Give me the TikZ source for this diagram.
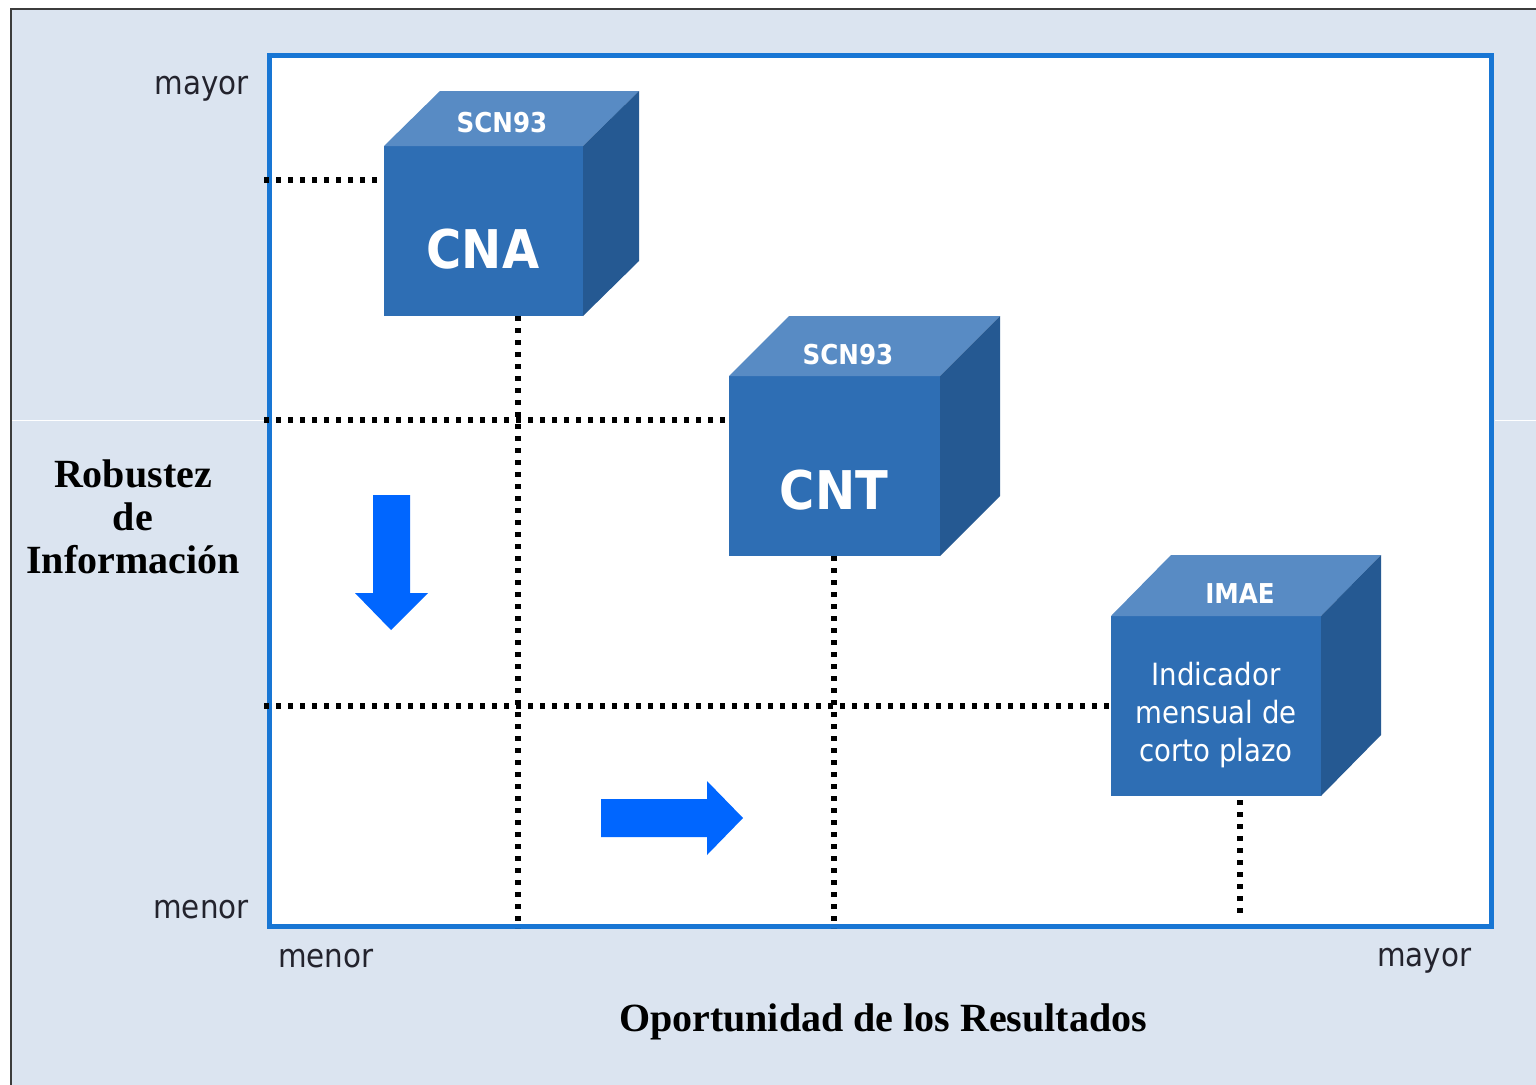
\documentclass[tikz,border=0pt]{standalone}
\usepackage{fontspec}
\newfontfamily\tah{DejaVu Sans}[FakeStretch=0.9]
\newfontfamily\ser{Liberation Serif}
\usetikzlibrary{calc}
\definecolor{bg}{RGB}{219,228,240}
\definecolor{framegray}{RGB}{60,60,60}
\definecolor{plotblue}{RGB}{24,118,212}
\definecolor{frontc}{RGB}{46,110,180}
\definecolor{topc}{RGB}{88,139,196}
\definecolor{sidec}{RGB}{37,89,146}
\definecolor{arrowblue}{RGB}{0,102,255}
\definecolor{txt}{RGB}{35,35,45}
\newcommand\mycube[7]{%
  \node[frontface, minimum width=#4*0.75pt, minimum height=#5*0.75pt, anchor=north west] (#1) at (#2,#3) {};
  \fill[topc] (#1.north west) -- ++(#6,-#7) -- ($(#1.north east)+(#6,-#7)$) -- (#1.north east) -- cycle;
  \fill[sidec] (#1.north east) -- ++(#6,-#7) -- ($(#1.south east)+(#6,-#7)$) -- (#1.south east) -- cycle;
}
\begin{document}
\begin{tikzpicture}[x=0.75pt,y=-0.75pt,
  frontface/.style={draw=none,fill=frontc,rectangle,inner sep=0pt,outer sep=0pt},
  dots/.style={line width=3.9pt,dash pattern=on 3.9pt off 5.1pt,line cap=butt,black},
  cubetitle/.style={inner sep=0pt,text=white,font=\tah\bfseries\fontsize{20.5}{24}\selectfont},
  cubebig/.style={inner sep=0pt,text=white,font=\tah\bfseries\fontsize{40}{48}\selectfont},
  cubebody/.style={inner sep=0pt,text=white,align=center,font=\tah\fontsize{23}{28.5}\selectfont},
  axislbl/.style={inner sep=0pt,text=txt,font=\tah\fontsize{24.5}{29}\selectfont},
  axistitle/.style={inner sep=0pt,text=black,align=center,font=\ser\bfseries\fontsize{30}{32.25}\selectfont},
  bigarrow/.style={fill=arrowblue,draw=none}]
\useasboundingbox (0,0) rectangle (1536,1085);
\fill[white] (0,0) rectangle (1536,1085);
\fill[bg] (11,9) rectangle (1536,1085);
\draw[framegray,line width=1.9pt] (11,1085) -- (11,9) -- (1536,9);
\draw[white,line width=0.75pt] (12,420) -- (266,420);
\draw[white,line width=0.75pt] (1495,420) -- (1536,420);
% plot area
\node[draw=plotblue,line width=3.75pt,fill=white,inner sep=0pt,outer sep=0pt,
  minimum width=1222*0.75pt,minimum height=871*0.75pt,anchor=north west] (plot) at (269,55) {};
% cubes
\mycube{cna}{384}{146}{199}{170}{56}{55}
\mycube{cnt}{729}{376}{211}{180}{60}{60}
\mycube{imae}{1111}{616}{210}{180}{60}{61}
\node[cubetitle] (cnaT) at (502,123) {SCN93};
\node[cubebig] (cnaL) at (483,249) {CNA};
\node[cubetitle] (cntT) at (848,355) {SCN93};
\node[cubebig] (cntL) at (834,490) {CNT};
\node[cubetitle] (imaeT) at (1240,594) {IMAE};
\node[cubebody] (imaeL) at (1216,715) {Indicador\\mensual de\\corto plazo};
% dotted guide lines
\coordinate (h1) at (264,180);
\coordinate (h2) at (264,420);
\coordinate (h3) at (264,706);
\coordinate (v1) at (518,928);
\coordinate (v2) at (834,928);
\coordinate (v3) at (1240,915);
\draw[dots] (h1) -- ($(cna.west |- h1)+(-6,0)$);
\draw[dots] (h2) -- ($(cnt.west |- h2)+(-2,0)$);
\draw[dots] (h3) -- ($(imae.west |- h3)+(-1,0)$);
\draw[dots] (cna.south -| v1) -- (v1);
\draw[dots] (cnt.south -| v2) -- (v2);
\draw[dots] ($(imae.south -| v3)+(0,4)$) -- (v3);
% arrows
\fill[bigarrow] (373,495) -- (410,495) -- (410,593) -- (428,593) -- (391,630) -- (355,593) -- (373,593) -- cycle;
\fill[bigarrow] (601,799) -- (707,799) -- (707,781) -- (743,818) -- (707,855) -- (707,837) -- (601,837) -- cycle;
% labels
\node[axislbl,anchor=base east] (ymax) at (249,94) {mayor};
\node[axislbl,anchor=base east] (ymin) at (249,918) {menor};
\node[axislbl,anchor=base west] (xmin) at (278,967) {menor};
\node[axislbl,anchor=base west] (xmax) at (1377,966) {mayor};
\node[axistitle,anchor=base] (ytitle) at (133,573) {Robustez\\de\\Información};
\node[axistitle,anchor=base] (xtitle) at (883,1031) {Oportunidad de los Resultados};
\end{tikzpicture}
\end{document}
